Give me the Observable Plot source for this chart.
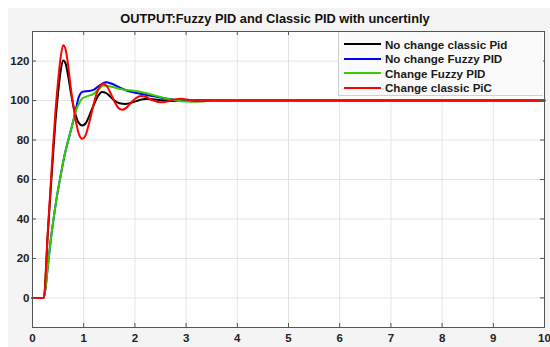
<!DOCTYPE html>
<html><head><meta charset="utf-8">
<script src="https://cdn.jsdelivr.net/npm/d3@7"></script>
<script src="https://cdn.jsdelivr.net/npm/@observablehq/plot@0.6"></script>
<style>
body{margin:0;background:#fff;}
#wrap{position:relative;width:550px;height:347px;overflow:hidden;}
#panel{position:absolute;left:8px;top:8px;width:542px;height:339px;background:#f4f4f4;}
#title{position:absolute;left:0;width:550px;top:11px;text-align:center;font:bold 12.8px "Liberation Sans",Arial,sans-serif;color:#111;}
#chart{position:absolute;left:0;top:24px;}
#legend{position:absolute;left:338px;top:32px;width:205px;height:64px;background:#fafafa;border-left:1px solid #d0d0d0;border-bottom:1px solid #d0d0d0;box-sizing:border-box;}
.row{position:absolute;left:5px;height:14px;display:flex;align-items:center;font:bold 11.6px "Liberation Sans",Arial,sans-serif;color:#1a1a1a;white-space:nowrap;}
.sw{width:37px;height:2px;margin-right:4px;}
</style></head>
<body>
<div id="wrap">
  <div id="panel"></div>
  <div id="title"></div>
  <div id="chart"></div>
  <div id="legend"></div>
</div>
<script>
const title = "OUTPUT:Fuzzy PID and Classic PID with uncertinly";
const seriesNames = ["No change classic Pid", "No change Fuzzy PID", "Change Fuzzy PID", "Change classic PiC"];
const seriesColors = ["#000000", "#0000ff", "#33cc00", "#ff0000"];
const xTicks = [0,1,2,3,4,5,6,7,8,9,10];
const yTicks = [0,20,40,60,80,100,120];

// No change classic Pid (black)
const blackT = [0,0.22,0.3,0.35,0.4,0.45,0.5,0.55,0.6,0.65,0.7,0.75,0.8,0.85,0.9,0.97,1.04,1.12,1.2,1.28,1.36,1.44,1.52,1.6,1.7,1.82,1.95,2.08,2.2,2.35,2.5,2.7,2.9,3.2,10];
const blackY = [0,0,33,53,72,90,104,115,120.3,118.5,112,104,97,92,88.8,87.4,88.5,93,98,102.3,104.3,103.8,102,100,98.6,98.3,99.1,100.2,100.8,100.7,100.2,99.8,99.8,100,100];
// No change Fuzzy PID (blue)
const blueT = [0,0.22,0.3,0.35,0.4,0.45,0.5,0.55,0.6,0.65,0.7,0.75,0.8,0.85,0.9,0.95,1.0,1.1,1.2,1.3,1.43,1.55,1.69,1.85,2.0,2.2,2.4,2.6,2.8,3.0,10];
const blueY = [0,0,16,28,38,47,55,62,69,75,80,85,90,96,101.5,104,104.6,104.8,105.5,107.5,109.3,108.5,106.8,105,104,103,102,101,100.3,100,100];
// Change Fuzzy PID (green)
const greenT = [0,0.22,0.3,0.35,0.4,0.45,0.5,0.55,0.6,0.65,0.7,0.75,0.8,0.85,0.9,0.97,1.05,1.2,1.3,1.39,1.5,1.69,1.9,2.1,2.3,2.5,2.7,2.9,3.1,3.3,3.6,10];
const greenY = [0,0,16,28,38,47,55,62,69,75,80,85,90,95,98,101,102,103.5,106,107.6,107.3,106,105.2,104.5,103.2,101.8,100.5,99.6,99.4,99.6,100,100];
// Change classic PiC (red)
const redT = [0,0.22,0.3,0.35,0.4,0.45,0.5,0.55,0.6,0.65,0.7,0.75,0.8,0.85,0.9,0.97,1.03,1.1,1.17,1.24,1.3,1.39,1.46,1.53,1.6,1.67,1.75,1.83,1.92,2.02,2.12,2.22,2.33,2.45,2.55,2.65,2.78,2.9,3.02,3.15,3.28,3.45,3.7,4,10];
const redY = [0,0,34,55,76,95,110,122,128,125.5,117,106,97,89,83.5,80.6,82,88,95.5,102.5,106.5,108.5,107,103.5,99.5,96.5,95.3,96.3,98.8,101.2,102.3,101.8,100.3,99.3,99.2,99.7,100.6,100.9,100.5,99.8,99.6,99.9,100.1,100,100];

const allT = [blackT, blueT, greenT, redT];
const allY = [blackY, blueY, greenY, redY];
const data = [];
seriesNames.forEach((name, i) => {
  allT[i].forEach((t, j) => data.push({series: name, t, v: allY[i][j]}));
});

document.getElementById("title").textContent = title;

const W = 550, H = 323;
const mL = 32, mR = 6, mT = 7, mB = 20;
const innerW = W - mL - mR, innerH = H - mT - mB;
const tk = 4;

const chart = Plot.plot({
  width: W, height: H,
  marginLeft: mL, marginRight: mR, marginTop: mT, marginBottom: mB,
  style: {background: "transparent", fontSize: "11.5px", fontFamily: "'Liberation Sans', Arial, sans-serif", color: "#222"},
  x: {domain: [0, 10]},
  y: {domain: [-15, 135]},
  marks: [
    Plot.frame({fill: "white", stroke: "none"}),
    Plot.gridX(xTicks, {stroke: "#e3e3e3", strokeOpacity: 1}),
    Plot.gridY(yTicks, {stroke: "#e3e3e3", strokeOpacity: 1}),
    ...seriesNames.map((name, i) => Plot.line(data.filter(d => d.series === name), {
      x: "t", y: "v", stroke: seriesColors[i], strokeWidth: 2, curve: "monotone-x"
    })),
    Plot.frame({stroke: "#555", strokeWidth: 1}),
    Plot.tickX(xTicks, {x: d => d, insetTop: innerH - tk, stroke: "#555"}),
    Plot.tickX(xTicks, {x: d => d, insetBottom: innerH - tk, stroke: "#555"}),
    Plot.tickY(yTicks, {y: d => d, insetRight: innerW - tk, stroke: "#555"}),
    Plot.tickY(yTicks, {y: d => d, insetLeft: innerW - tk, stroke: "#555"}),
    Plot.axisX(xTicks, {tickSize: 0, tickPadding: 6, label: null, fontWeight: "bold", fill: "#222", fontSize: 11.5}),
    Plot.axisY(yTicks, {tickSize: 0, tickPadding: 3, label: null, fontWeight: "bold", fill: "#222", fontSize: 11.5})
  ]
});
document.getElementById("chart").appendChild(chart);

const legend = document.getElementById("legend");
const rowTops = [5, 19.5, 34, 48.5];
seriesNames.forEach((name, i) => {
  const row = document.createElement("div");
  row.className = "row";
  row.style.top = rowTops[i] + "px";
  const sw = document.createElement("div");
  sw.className = "sw";
  sw.style.background = seriesColors[i];
  const tx = document.createElement("span");
  tx.textContent = name;
  row.appendChild(sw); row.appendChild(tx);
  legend.appendChild(row);
});
</script>
</body></html>
